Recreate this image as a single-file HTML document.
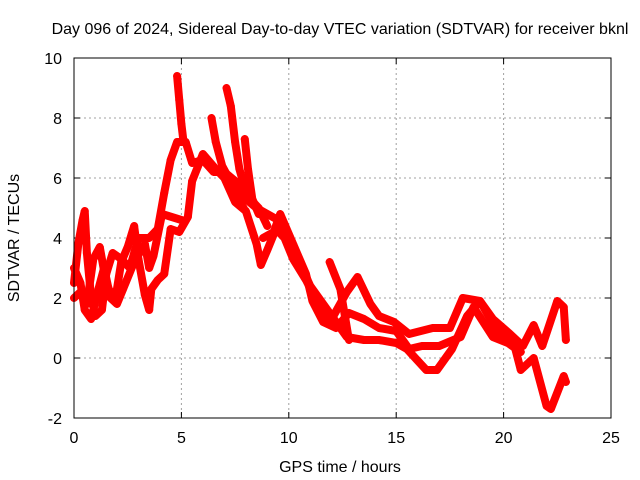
<!DOCTYPE html>
<html><head><meta charset="utf-8"><style>
body{margin:0;background:#fff}
svg{display:block;font-family:"Liberation Sans",sans-serif}
</style></head><body>
<svg id="chart" width="640" height="480">
<text x="340" y="34" font-size="16" text-anchor="middle">Day 096 of 2024, Sidereal Day-to-day VTEC variation (SDTVAR) for receiver bknl</text>
<text transform="translate(19,238) rotate(-90)" font-size="16" text-anchor="middle">SDTVAR / TECUs</text>
<text x="340" y="472" font-size="16" text-anchor="middle">GPS time / hours</text>
<g id="grid"></g><g id="ticks"></g><g id="series"></g>
<rect x="74" y="58" width="537" height="360" fill="none" stroke="#000" stroke-width="1"/>
</svg>
<script>
const xTicks=[0,5,10,15,20,25];
const yTicks=[-2,0,2,4,6,8,10];
const traceA=[[0,2.5],[0.2,3.8],[0.4,4.6],[0.5,4.9],[0.6,3.5],[0.8,2],[1.0,1.4],[1.3,1.6],[1.5,2.8],[1.8,3.5],[2.2,3.3],[2.6,3.0],[3.0,4.0],[3.5,4.0],[3.9,4.3],[4.2,5.5],[4.5,6.6],[4.8,7.2],[5.2,7.2],[5.5,6.5],[6.0,6.6],[6.5,6.2],[7.0,6.2],[7.5,5.9],[8,5.3],[8.5,5],[9,4.8],[9.5,4.6],[10,4],[10.5,3.2],[11,2.4],[11.5,1.9],[12,1.4],[12.7,0.7],[13.5,0.6],[14.2,0.6],[15.0,0.5],[15.5,0.3],[16.4,-0.4],[16.9,-0.4],[17.6,0.3],[18.3,1.4],[18.9,1.9],[19.7,0.9],[20.4,0.7],[20.8,-0.4],[21.4,0],[22,-1.6],[22.2,-1.7],[22.8,-0.6],[22.9,-0.8]];
const traceB=[[0,2],[0.3,2.2],[0.6,1.8],[0.9,3.3],[1.2,3.7],[1.5,2.5],[1.8,2.0],[2.0,2.3],[2.2,3.2],[2.5,3.7],[2.8,4.4],[3.0,3.3],[3.3,2.1],[3.5,1.6],[3.6,2.3],[3.9,2.6],[4.2,2.8],[4.5,4.3],[4.9,4.2],[5.3,4.7],[5.5,5.9],[6.0,6.8],[6.6,6.3],[7,6.0],[7.5,5.2],[8,4.9],[8.5,3.8],[8.7,3.1],[9,3.6],[9.4,4.3],[9.8,4],[10.2,3.3],[10.8,2.6],[11.5,1.6],[12.0,1.3],[12.7,2.2],[13.2,2.7],[13.8,1.8],[14.2,1.4],[14.9,1.2],[15.6,0.8],[16.7,1.0],[17.5,1.0],[18.1,2.0],[18.9,1.9],[19.5,1.3],[20.3,0.8],[20.9,0.4],[21.4,1.1],[21.8,0.4],[22.5,1.9],[22.8,1.7],[22.9,0.6]];
const traceC=[[0,3],[0.3,2.5],[0.5,1.6],[0.8,1.3],[1.1,2.2],[1.4,3.0],[1.7,2.0],[2.0,1.8],[2.4,2.5],[2.8,3.2],[3.3,3.8],[3.5,3.0],[3.7,3.4],[4.1,4.8],[5,4.6]];
const traceD=[[8.8,4.0],[9.3,4.2],[9.6,4.8],[10.2,3.8],[10.8,2.8],[11.1,1.9],[11.6,1.2],[12.2,1.0],[12.8,1.5],[13.5,1.3],[14.2,1.0],[15.0,0.9],[15.6,0.3],[16.2,0.4],[17,0.4],[18.0,0.7],[18.6,1.7],[19.5,0.7],[20.2,0.5],[20.8,0.2]];
const spike1=[[4.8,9.4],[4.9,8.6],[5.0,7.8],[5.1,7.2]];
const spike2=[[7.1,9.0],[7.3,8.4],[7.5,7.2],[7.7,6.3],[7.9,5.8],[8.2,5.3],[8.6,5.0],[9.0,4.4]];
const spike3=[[6.4,8.0],[6.6,7.2],[6.9,6.4],[7.2,6.0],[7.5,5.4],[7.9,5.0]];
const spike4=[[7.95,7.3],[8.1,6.3],[8.3,5.3],[8.6,4.8]];
const spike5=[[11.9,3.2],[12.4,2.3],[12.8,0.6]];
const allSeries=[traceA,traceB,traceC,traceD,spike1,spike2,spike3,spike4,spike5];
const seriesNames=['trace-a','trace-b','trace-c','trace-d','spike-1','spike-2','spike-3','spike-4','spike-5'];

const X0=74,X1=611,Y0=418,Y1=58;
function sx(t){return X0+(t-0)/(25-0)*(X1-X0);}
function sy(v){return Y0-(v-(-2))/(10-(-2))*(Y0-Y1);}
const NS='http://www.w3.org/2000/svg';
function mk(tag,attrs,parent){const e=document.createElementNS(NS,tag);for(const k in attrs)e.setAttribute(k,attrs[k]);parent.appendChild(e);return e;}
const grid=document.getElementById('grid'),ticks=document.getElementById('ticks'),ser=document.getElementById('series');
xTicks.forEach(t=>{
  const x=sx(t);
  if(t>0&&t<25){const g=mk('line',{x1:x,x2:x,y1:Y1,y2:Y0,stroke:'#a0a0a0','stroke-dasharray':'2,3'},grid);
  
  }
  mk('line',{x1:x,x2:x,y1:Y0,y2:Y0-6,stroke:'#000'},ticks);
  mk('line',{x1:x,x2:x,y1:Y1,y2:Y1+6,stroke:'#000'},ticks);
  const l=mk('text',{x:x,y:Y0+25,'font-size':16,'text-anchor':'middle'},ticks);
  l.textContent=t;
  
  
});
yTicks.forEach(v=>{
  const y=sy(v);
  if(v>-2&&v<10){const g=mk('line',{x1:X0,x2:X1,y1:y,y2:y,stroke:'#a0a0a0','stroke-dasharray':'2,3'},grid);
  
  }
  mk('line',{x1:X0,x2:X0+6,y1:y,y2:y,stroke:'#000'},ticks);
  mk('line',{x1:X1,x2:X1-6,y1:y,y2:y,stroke:'#000'},ticks);
  const l=mk('text',{x:X0-12,y:y+6,'font-size':16,'text-anchor':'end'},ticks);
  l.textContent=v;
  
  
});
allSeries.forEach((s,i)=>{
  const g=mk('g',{},ser);
  
  
  mk('polyline',{points:s.map(p=>sx(p[0])+','+sy(p[1])).join(' '),fill:'none',stroke:'#ff0000','stroke-width':8,'stroke-linejoin':'round','stroke-linecap':'round'},g);
  s.forEach(p=>{
    const x=sx(p[0]),y=sy(p[1]);
    const m=mk('path',{d:`M${x-4},${y}H${x+4}M${x},${y-4}V${y+4}`,stroke:'#ff0000','stroke-width':1.2},g);
    
    
  });
});
</script>
</body></html>
